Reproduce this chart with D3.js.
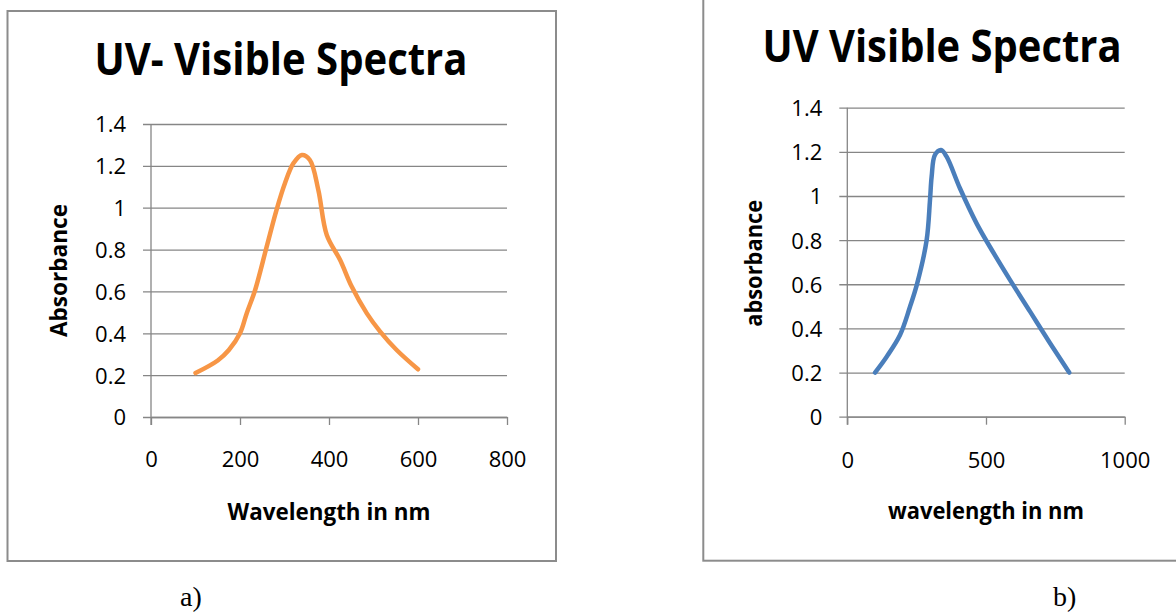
<!DOCTYPE html>
<html>
<head>
<meta charset="utf-8">
<script src="https://cdn.jsdelivr.net/npm/d3@7"></script>
<style>
  html, body { margin: 0; padding: 0; background: #fff; }
  svg { display: block; }
</style>
</head>
<body>
<svg id="chart" width="1176" height="615"></svg>
<script>
// ---- Data ----
const leftTitle = "UV- Visible Spectra";
const rightTitle = "UV Visible Spectra";
const leftXLabel = "Wavelength in nm";
const rightXLabel = "wavelength in nm";
const leftYLabel = "Absorbance";
const rightYLabel = "absorbance";

const leftWavelength = [100, 150, 175, 200, 215, 234, 260, 282, 301, 320, 339, 357, 376, 395, 425, 451, 485, 515, 552, 600];
const leftAbsorbance = [0.21, 0.27, 0.32, 0.40, 0.495, 0.607, 0.814, 0.989, 1.117, 1.212, 1.252, 1.228, 1.085, 0.87, 0.75, 0.623, 0.495, 0.408, 0.32, 0.228];

const rightWavelength = [100, 142, 190, 226, 252, 286, 298, 304, 316, 338, 358, 406, 466, 514, 587, 659, 731, 800];
const rightAbsorbance = [0.20, 0.272, 0.37, 0.498, 0.604, 0.80, 0.98, 1.087, 1.186, 1.208, 1.178, 1.035, 0.876, 0.770, 0.619, 0.476, 0.333, 0.20];

const yTicks = [0, 0.2, 0.4, 0.6, 0.8, 1, 1.2, 1.4];
const leftXTicks = [0, 200, 400, 600, 800];
const rightXTicks = [0, 500, 1000];

// ---- Drawing ----
const svg = d3.select("#chart");
const GRID = "#868686";
const FONT = "'Open Sans', 'Noto Sans', 'Liberation Sans', sans-serif";

// frames
svg.append("rect").attr("x", 7.5).attr("y", 11).attr("width", 548.5).attr("height", 550)
  .attr("fill", "none").attr("stroke", "#8c8c8c").attr("stroke-width", 2);
svg.append("rect").attr("x", 703.3).attr("y", -20).attr("width", 600).attr("height", 580.7)
  .attr("fill", "none").attr("stroke", "#8c8c8c").attr("stroke-width", 2);

function panel(cfg) {
  const x = d3.scaleLinear().domain(cfg.xDomain).range(cfg.xRange);
  const y = d3.scaleLinear().domain([0, 1.4]).range(cfg.yRange);
  const g = svg.append("g");
  const left = cfg.xRange[0], right = cfg.xRange[1];

  // horizontal gridlines + y tick labels
  const yAxis = d3.axisLeft(y).tickValues(yTicks).tickFormat(d3.format("~g"))
    .tickSizeInner(-(right - (left - 8))).tickSizeOuter(0).tickPadding(cfg.yPad);
  const ya = g.append("g").attr("transform", `translate(${left - 8},0)`).call(yAxis);
  ya.select(".domain").remove();
  ya.selectAll(".tick line").attr("stroke", GRID).attr("stroke-width", 1.3);
  ya.selectAll(".tick text").attr("font-family", FONT).attr("font-size", 22)
    .attr("fill", "#000").attr("dy", "0.36em");

  // x axis with ticks below
  const xAxis = d3.axisBottom(x).tickValues(cfg.xTicks).tickFormat(d3.format("d"))
    .tickSizeInner(8).tickSizeOuter(0);
  const xa = g.append("g").attr("transform", `translate(0,${cfg.yRange[0]})`).call(xAxis);
  xa.select(".domain").attr("stroke", GRID).attr("stroke-width", 1.3);
  xa.selectAll(".tick line").attr("stroke", GRID).attr("stroke-width", 1.3);
  xa.selectAll(".tick text").attr("font-family", FONT).attr("font-size", 22)
    .attr("fill", "#000").attr("y", cfg.xLabelBase).attr("dy", 0);

  // vertical y-axis line
  g.append("line").attr("x1", left).attr("x2", left)
    .attr("y1", cfg.yRange[1]).attr("y2", cfg.yRange[0] + 8)
    .attr("stroke", GRID).attr("stroke-width", 1.3);

  // series
  const line = d3.line().x(d => x(d[0])).y(d => y(d[1])).curve(d3.curveCatmullRom.alpha(0.5));
  g.append("path").datum(d3.zip(cfg.xs, cfg.ys)).attr("d", line)
    .attr("fill", "none").attr("stroke", cfg.color).attr("stroke-width", 4.5)
    .attr("stroke-linecap", "round").attr("stroke-linejoin", "round");

  // title
  g.append("text").attr("x", cfg.titleX).attr("y", cfg.titleY).attr("text-anchor", "middle")
    .attr("font-family", FONT).attr("font-weight", "bold").attr("font-size", 44)
    .attr("textLength", cfg.titleLen).attr("lengthAdjust", "spacingAndGlyphs")
    .text(cfg.title);

  // x label
  g.append("text").attr("x", (left + right) / 2).attr("y", cfg.xTitleY).attr("text-anchor", "middle")
    .attr("font-family", FONT).attr("font-weight", "bold").attr("font-size", 23)
    .attr("textLength", cfg.xTitleLen).attr("lengthAdjust", "spacingAndGlyphs")
    .text(cfg.xLabel);

  // y label
  g.append("text").attr("transform", `translate(${cfg.yTitleX},${cfg.yTitleCy}) rotate(-90)`)
    .attr("text-anchor", "middle")
    .attr("font-family", FONT).attr("font-weight", "bold").attr("font-size", 23)
    .attr("textLength", cfg.yTitleLen).attr("lengthAdjust", "spacingAndGlyphs")
    .text(cfg.yLabel);
}

panel({
  xDomain: [0, 800], xRange: [151, 507], yRange: [417, 124], xTicks: leftXTicks,
  xs: leftWavelength, ys: leftAbsorbance, color: "#F79646",
  yPad: 17, xLabelBase: 50,
  title: leftTitle, titleX: 281, titleY: 75, titleLen: 373,
  xLabel: leftXLabel, xTitleY: 520, xTitleLen: 203,
  yLabel: leftYLabel, yTitleX: 67, yTitleCy: 270.5, yTitleLen: 133
});

panel({
  xDomain: [0, 1000], xRange: [847.3, 1124.7], yRange: [416.7, 107.7], xTicks: rightXTicks,
  xs: rightWavelength, ys: rightAbsorbance, color: "#4A7EBB",
  yPad: 17, xLabelBase: 51,
  title: rightTitle, titleX: 942, titleY: 61.5, titleLen: 359,
  xLabel: rightXLabel, xTitleY: 519, xTitleLen: 196,
  yLabel: rightYLabel, yTitleX: 762, yTitleCy: 263.3, yTitleLen: 127
});

// panel captions
svg.append("text").attr("x", 180).attr("y", 606).attr("font-family", "'Liberation Serif', 'Times New Roman', serif")
  .attr("font-size", 28).text("a)");
svg.append("text").attr("x", 1053).attr("y", 606).attr("font-family", "'Liberation Serif', 'Times New Roman', serif")
  .attr("font-size", 28).text("b)");
</script>
</body>
</html>
